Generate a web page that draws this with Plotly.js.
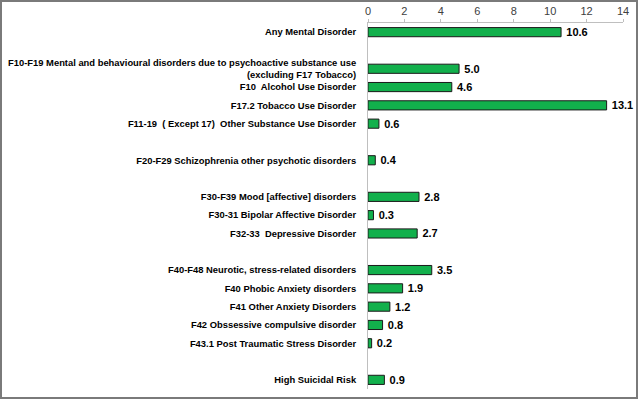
<!DOCTYPE html>
<html>
<head>
<meta charset="utf-8">
<script src="https://cdn.plot.ly/plotly-3.0.1.min.js"></script>
<style>
  html, body { margin: 0; padding: 0; background: #fff; }
  #wrap { position: relative; width: 640px; height: 401px; }
  #chart { position: absolute; left: 0; top: 0; width: 640px; height: 401px; }
  #frame { position: absolute; left: 0; top: 0; width: 634px; height: 395px;
           border: 2px solid #7a7a7a; pointer-events: none; }
</style>
</head>
<body>
<div id="wrap">
  <div id="chart"></div>
  <div id="frame"></div>
</div>
<script>
// Categories (blank strings are the spacer rows between groups)
const categories = [
  "Any Mental Disorder",
  " ",
  "F10-F19 Mental and behavioural disorders due to psychoactive substance use<br>(excluding F17 Tobacco)",
  "F10\u00a0 Alcohol Use Disorder",
  "F17.2 Tobacco Use Disorder",
  "F11-19 \u00a0( Except 17) \u00a0Other Substance Use Disorder",
  "  ",
  "F20-F29 Schizophrenia other psychotic disorders",
  "   ",
  "F30-F39 Mood [affective] disorders",
  "F30-31 Bipolar Affective Disorder",
  "F32-33 \u00a0Depressive Disorder",
  "    ",
  "F40-F48 Neurotic, stress-related disorders",
  "F40 Phobic Anxiety disorders",
  "F41 Other Anxiety Disorders",
  "F42 Obssessive compulsive disorder",
  "F43.1 Post Traumatic Stress Disorder",
  "     ",
  "High Suicidal Risk"
];

const values = [
  10.6, null,
  5.0, 4.6, 13.1, 0.6, null,
  0.4, null,
  2.8, 0.3, 2.7, null,
  3.5, 1.9, 1.2, 0.8, 0.2, null,
  0.9
];

const xTicks = [0, 2, 4, 6, 8, 10, 12, 14];

const trace = {
  type: "bar",
  orientation: "h",
  y: categories,
  x: values,
  marker: { color: "#12B04C", line: { color: "#1a1a1a", width: 1 } },
  texttemplate: "\u2009%{x:.1f}",
  textposition: "outside",
  constraintext: "none",
  cliponaxis: false,
  textfont: { family: "'Liberation Sans', Arial, sans-serif", size: 11, weight: "bold", color: "#000" },
  hoverinfo: "skip"
};

const layout = {
  width: 640,
  height: 401,
  margin: { l: 368, r: 17, t: 23, b: 12 },
  paper_bgcolor: "#ffffff",
  plot_bgcolor: "#ffffff",
  showlegend: false,
  bargap: 0.5,
  xaxis: {
    side: "top",
    range: [0, 14],
    tickvals: xTicks,
    ticktext: xTicks.map(String),
    showgrid: false,
    zeroline: false,
    showline: true,
    linecolor: "#bfbfbf",
    linewidth: 1,
    ticks: "outside",
    ticklen: 3,
    tickcolor: "#bfbfbf",
    tickfont: { family: "'Liberation Sans', Arial, sans-serif", size: 11, color: "#404040" },
    fixedrange: true
  },
  yaxis: {
    type: "category",
    categoryorder: "array",
    categoryarray: categories,
    range: [categories.length - 0.5, -0.5],
    showgrid: false,
    zeroline: false,
    showline: true,
    linecolor: "#bfbfbf",
    linewidth: 1,
    ticks: "",
    ticklabelstandoff: 9,
    tickfont: { family: "'Liberation Sans', Arial, sans-serif", size: 9.4, weight: "bold", color: "#000" },
    fixedrange: true
  }
};

Plotly.newPlot("chart", [trace], layout, { staticPlot: true, displayModeBar: false });
</script>
</body>
</html>
